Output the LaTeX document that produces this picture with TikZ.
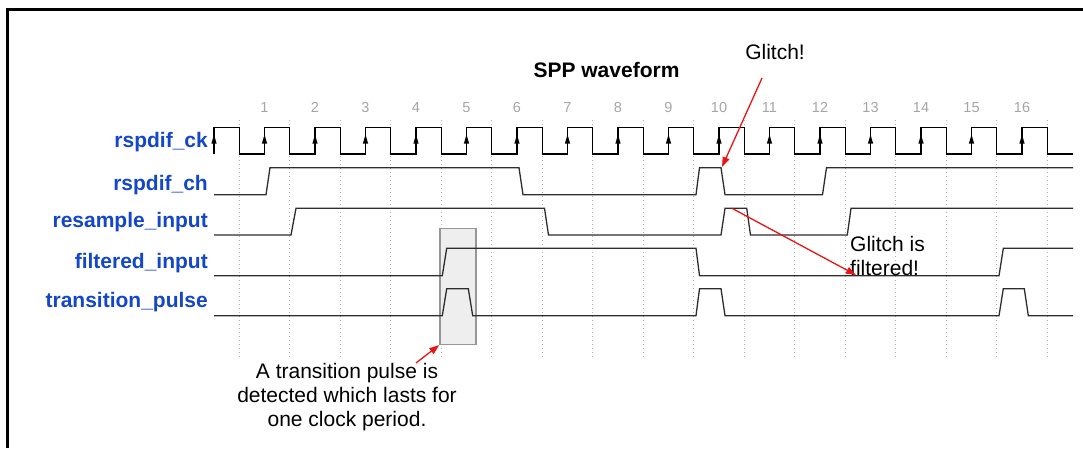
\documentclass[tikz,border=0pt]{standalone}
\usepackage{fontspec}
\setmainfont{Liberation Sans}
\usetikzlibrary{arrows.meta}
\definecolor{labblue}{RGB}{20,70,200}
\definecolor{numgray}{RGB}{165,165,165}
\definecolor{boxfill}{RGB}{238,238,238}
\definecolor{boxline}{RGB}{150,150,150}
\definecolor{sigcol}{RGB}{45,45,45}
\definecolor{arrred}{RGB}{235,20,20}
\begin{document}
\begin{tikzpicture}[x=1pt,y=-1pt,
  frame/.style={line width=3pt,black},
  gridline/.style={numgray!85,line width=1pt,dash pattern=on 1pt off 3pt},
  clk/.style={black,line width=1.3pt},
  sig/.style={sigcol,line width=1.3pt,line join=miter},
  clkhead/.style={fill=black},
  lab/.style={anchor=east,inner sep=0pt,text=labblue,font=\fontsize{21}{24}\selectfont\bfseries},
  num/.style={inner sep=0pt,text=numgray,font=\fontsize{14.5}{16}\selectfont},
  ttl/.style={inner sep=0pt,font=\fontsize{21}{24}\selectfont\bfseries},
  note/.style={inner sep=0pt,font=\fontsize{21}{24.3}\selectfont},
  hlbox/.style={draw=boxline,fill=boxfill,line width=1.5pt,minimum width=36pt,minimum height=116pt,inner sep=0pt},
  redarrow/.style={arrred,line width=1.3pt,-{Triangle[length=10pt,width=7pt]}}
]
\useasboundingbox (0,0) rectangle (1083,448);
% frame (left and top edges)
\draw[frame] (7.3,448) -- (7.3,9.3) -- (1083,9.3);

% dotted grid at falling clock edges
\foreach \k in {0,...,16}
  \draw[gridline] ({239.25+50.5*\k},120) -- ({239.25+50.5*\k},359);

% highlight box
\node[hlbox] (hl) at (458,286.3) {};

% title and cycle numbers
\node[ttl] (title) at (606.5,70) {SPP waveform};
\foreach \k in {1,...,16}
  \node[num] (n\k) at ({214+50.5*\k},107.5) {\k};

% signal labels
\node[lab] (lck) at (208,141.7) {rspdif\_ck};
\node[lab] (lch) at (208,185.5) {rspdif\_ch};
\node[lab] (lres) at (208,222.5) {resample\_input};
\node[lab] (lfil) at (208,263.5) {filtered\_input};
\node[lab] (ltp) at (208,302.5) {transition\_pulse};

% clock
\draw[clk] (214,154) \foreach \k in {0,...,16} {
   -- ({214+50.5*\k},127.7) -- ({239.25+50.5*\k},127.7)
   -- ({239.25+50.5*\k},154) -- ({264.5+50.5*\k},154) };
\foreach \k in {0,...,16}
  \fill[clkhead] ({214+50.5*\k},134.5) -- ++(-2.6,9) -- ++(5.2,0) -- cycle;

% rspdif_ch
\draw[sig] (214,194.7) -- (266,194.7) -- (270,167.7) -- (519,167.7) -- (523,194.7)
  -- (696,194.7) -- (699.5,167.7) -- (721,167.7) -- (725,194.7)
  -- (822.5,194.7) -- (826.5,167.7) -- (1073,167.7);
% resample_input
\draw[sig] (214,235) -- (291,235) -- (296,208.3) -- (544.5,208.3) -- (548.5,235)
  -- (721,235) -- (725,208.3) -- (746.7,208.3) -- (750.5,235)
  -- (847.3,235) -- (851,208.3) -- (1073,208.3);
% filtered_input
\draw[sig] (214,275.7) -- (442.3,275.7) -- (446.7,248.3) -- (696,248.3) -- (699.5,275.7)
  -- (999,275.7) -- (1003.3,248.3) -- (1073,248.3);
% transition_pulse
\draw[sig] (214,315.7) -- (442.3,315.7) -- (446.7,288.7) -- (468.3,288.7) -- (472.7,315.7)
  -- (696,315.7) -- (699.5,288.7) -- (721,288.7) -- (725,315.7)
  -- (999,315.7) -- (1003.3,288.7) -- (1024.3,288.7) -- (1028.3,315.7) -- (1073,315.7);

% annotations
\node[note] (glitch) at (775,51.7) {Glitch!};
\coordinate (gstart) at (762,78);
\coordinate (gtip) at (722,167);
\draw[redarrow] (gstart) -- (gtip);

\node[note,anchor=west,align=left] (gfilt) at (850,256) {Glitch is\\filtered!};
\coordinate (fstart) at (732,208.3);
\coordinate (ftip) at (856,275);
\draw[redarrow] (fstart) -- (ftip);

\node[note,align=center] (tpnote) at (347,397) {A transition pulse is\\detected which lasts for\\one clock period.};
\coordinate (tstart) at (416,363);
\draw[redarrow] (tstart) -- (hl.south west);
\end{tikzpicture}
\end{document}
